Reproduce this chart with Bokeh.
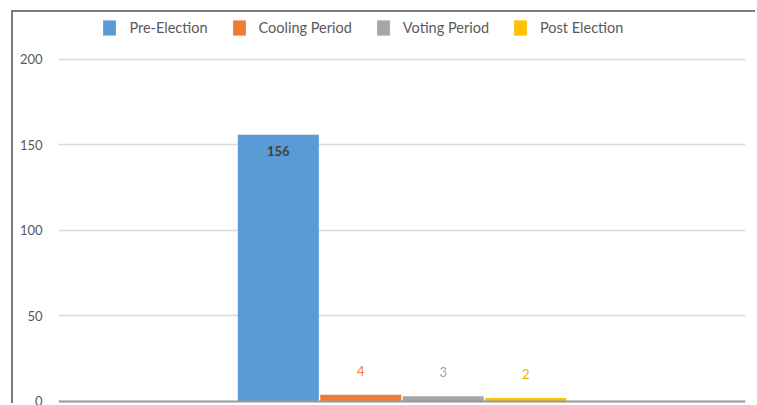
from bokeh.plotting import figure
from bokeh.models import (ColumnDataSource, FactorRange, Range1d, FixedTicker, Legend, LegendItem,
                          LabelSet, Span)
from bokeh.core.properties import value
from bokeh.transform import dodge
from bokeh.embed import file_html
from bokeh.resources import INLINE

categories = ["Total"]
series_names = ["Pre-Election", "Cooling Period", "Voting Period", "Post Election"]
series_values = [[156], [4], [3], [2]]
series_colors = ["#5B9BD5", "#ED7D31", "#A5A5A5", "#FFC000"]
label_colors = ["#404040", "#ED7D31", "#A5A5A5", "#E8B100"]
y_ticks = [0, 50, 100, 150, 200]

p = figure(
    x_range=FactorRange(factors=categories, range_padding=0),
    y_range=Range1d(-2.34, 226.3),
    width=744, height=393,
    output_backend="svg", toolbar_location=None,
    min_border_left=45, min_border_right=12, min_border_top=2, min_border_bottom=0,
)
p.styles = {"margin-left": "13px", "margin-top": "12px",
            "box-shadow": "-2px -2px 0px 0px #7a7a7a"}
p.outline_line_color = None
p.background_fill_color = "white"
p.border_fill_color = "white"

offsets = [-0.18, -0.06, 0.06, 0.18]
items = []
for name, vals, col, lcol, off in zip(series_names, series_values, series_colors, label_colors, offsets):
    src = ColumnDataSource(dict(cat=categories, v=vals, t=[str(v) for v in vals]))
    r = p.vbar(x=dodge("cat", off, range=p.x_range), top="v", width=0.118, source=src,
               fill_color=col, line_color=None)
    items.append(LegendItem(label=name, renderers=[r]))
    inside = vals[0] > 50
    lbl = LabelSet(x=dodge("cat", off, range=p.x_range), y="v", text="t", source=src,
                   text_align="center", text_baseline="middle",
                   y_offset=-16 if inside else 24,
                   text_color=lcol, text_font=value("Lato"), text_font_size="13px",
                   text_font_style="bold" if inside else "normal")
    p.add_layout(lbl)

p.add_layout(Span(location=0, dimension="width", line_color="#9a9a9a", line_width=2))

legend = Legend(items=items, orientation="horizontal", location=(43.4, 368.5),
                glyph_width=16, glyph_height=19, label_standoff=12, spacing=23,
                padding=0, margin=0, border_line_color=None, background_fill_alpha=0,
                label_text_font="Lato", label_text_font_size="14.5px", label_text_color="#595959")
p.add_layout(legend)

p.xaxis.visible = False
p.yaxis.ticker = FixedTicker(ticks=y_ticks)
p.yaxis.axis_line_color = None
p.yaxis.major_tick_line_color = None
p.yaxis.minor_tick_line_color = None
p.yaxis.major_label_text_font = "Lato"
p.yaxis.major_label_text_font_size = "13px"
p.yaxis.major_label_text_color = "#595959"
p.yaxis.major_label_standoff = 10

p.xgrid.grid_line_color = None
p.ygrid.grid_line_color = "#d9d9d9"
p.ygrid.grid_line_width = 1.5

open("out.html", "w").write(file_html(p, INLINE))
